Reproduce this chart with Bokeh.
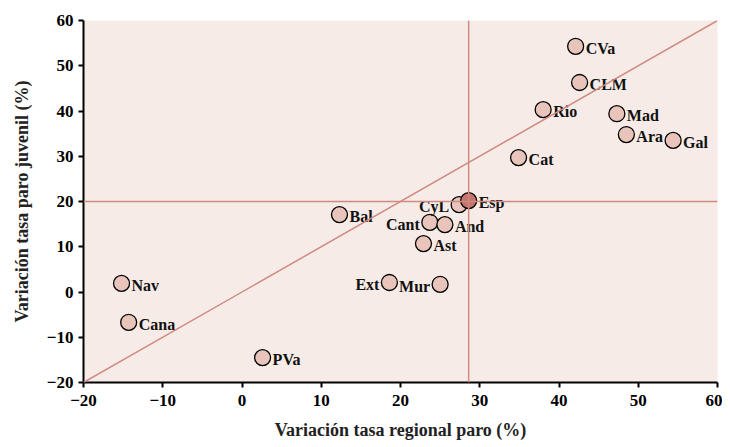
from bokeh.plotting import figure
from bokeh.models import ColumnDataSource, FixedTicker, Span, Slope
from bokeh.core.properties import value
from bokeh.embed import file_html
from bokeh.resources import INLINE

regions = ["Nav", "Cana", "PVa", "Bal", "Ext", "Mur", "Ast", "Cant", "And", "CyL",
           "Esp", "Cat", "Rio", "CVa", "CLM", "Mad", "Ara", "Gal"]
var_regional = [-15.2, -14.3, 2.6, 12.3, 18.6, 25.0, 22.9, 23.7, 25.6, 27.4,
                28.6, 34.9, 38.0, 42.1, 42.6, 47.3, 48.5, 54.4]
var_juvenil = [1.9, -6.7, -14.5, 17.1, 2.1, 1.7, 10.7, 15.4, 14.9, 19.3,
               20.2, 29.7, 40.3, 54.3, 46.3, 39.4, 34.8, 33.5]
label_side = ["r", "r", "r", "r", "l", "l", "r", "l", "r", "l",
              "r", "r", "r", "r", "r", "r", "r", "r"]
xticks = [-20, -10, 0, 10, 20, 30, 40, 50, 60]
yticks = [-20, -10, 0, 10, 20, 30, 40, 50, 60]
ref_x = 28.6
ref_y = 20

FONT = "Liberation Serif"
BG = "#f6ebe7"
LINE = "#cf8a82"
FILL = "#e8c4bb"
FILL_ESP = "#c6756d"

p = figure(frame_width=634, frame_height=362, x_range=(-20, 60), y_range=(-20, 60),
           output_backend="svg", toolbar_location=None,
           min_border_left=83, min_border_right=5, min_border_top=20, min_border_bottom=40)
p.background_fill_color = BG
p.border_fill_color = "white"
p.outline_line_color = None
p.grid.visible = False

for ax in (p.xaxis[0], p.yaxis[0]):
    ax.axis_line_width = 2
    ax.axis_line_color = "black"
    ax.major_tick_line_width = 2
    ax.major_tick_line_color = "black"
    ax.major_tick_out = 5
    ax.major_tick_in = 0
    ax.minor_tick_line_color = None
    ax.major_label_text_font = FONT
    ax.major_label_text_font_style = "bold"
    ax.major_label_text_font_size = "17px"
    ax.major_label_text_color = "black"
    ax.axis_label_text_font = FONT
    ax.axis_label_text_font_style = "bold"
    ax.axis_label_text_font_size = "18px"
    ax.axis_label_text_color = "#222222"

p.xaxis.ticker = FixedTicker(ticks=xticks)
p.yaxis.ticker = FixedTicker(ticks=yticks)
p.xaxis.major_label_overrides = {t: str(t).replace("-", "\u2212") for t in xticks if t < 0}
p.yaxis.major_label_overrides = {t: str(t).replace("-", "\u2212") for t in yticks if t < 0}
p.xaxis.axis_label = "Variación tasa regional paro (%)"
p.yaxis.axis_label = "Variación tasa paro juvenil (%)"
p.xaxis.major_label_standoff = 7
p.yaxis.major_label_standoff = 5
p.xaxis.axis_label_standoff = 11
p.yaxis.axis_label_standoff = 12

p.add_layout(Span(location=ref_x, dimension="height", line_color=LINE, line_width=1.5))
p.add_layout(Span(location=ref_y, dimension="width", line_color=LINE, line_width=1.5))
p.add_layout(Slope(gradient=1, y_intercept=0, line_color=LINE, line_width=1.5))

fills = [FILL_ESP if r == "Esp" else FILL for r in regions]
src = ColumnDataSource(dict(x=var_regional, y=var_juvenil, name=regions, fill=fills))
p.scatter("x", "y", source=src, size=16, fill_color="fill", line_color="black", line_width=1.3)

for side in ("r", "l"):
    idx = [i for i, s in enumerate(label_side) if s == side]
    s2 = ColumnDataSource(dict(x=[var_regional[i] for i in idx],
                               y=[var_juvenil[i] for i in idx],
                               name=[regions[i] for i in idx]))
    p.text("x", "y", text="name", source=s2,
           x_offset=10 if side == "r" else -10, y_offset=2,
           text_align="left" if side == "r" else "right", text_baseline="middle",
           text_font=value(FONT), text_font_style="bold", text_font_size="16px",
           text_color="#111111")

open("out.html", "w").write(file_html(p, INLINE))
